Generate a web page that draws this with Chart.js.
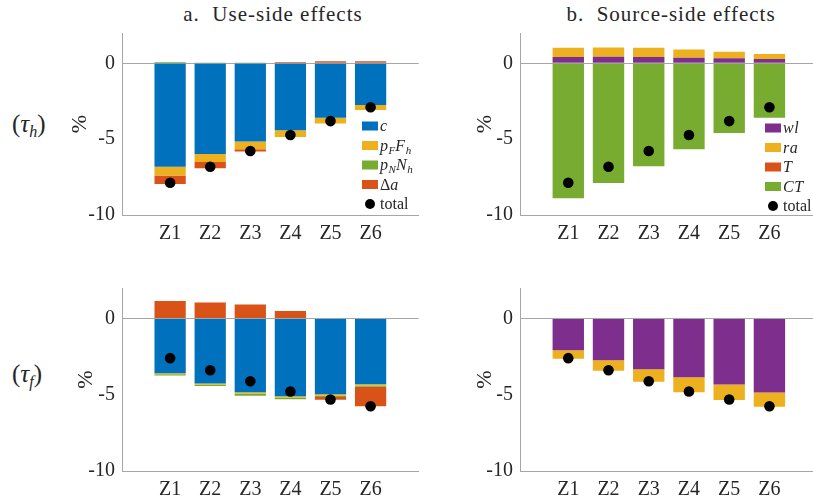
<!DOCTYPE html>
<html lang="en">
<head>
<meta charset="UTF-8">
<title>Use-side and source-side effects</title>
<script src="https://cdn.jsdelivr.net/npm/chart.js@4.4.1/dist/chart.umd.min.js"></script>
<style>
  body{margin:0; width:813px; height:502px; overflow:hidden; background:#fff; position:relative;
       font-family:"Liberation Serif", "DejaVu Serif", serif; color:#262626;}
  canvas{position:absolute;}
  .ttl{position:absolute; width:400px; text-align:center; font-family:"Liberation Serif", "DejaVu Serif", serif;
       font-size:21px; letter-spacing:1px; white-space:pre; line-height:28px;}
  .row{position:absolute; font-family:"Liberation Serif", "DejaVu Serif", serif; font-size:25px; line-height:30px;}
  .row i{font-family:"Liberation Serif", "DejaVu Serif", serif; font-style:italic;}
  .row sub{font-size:16px; vertical-align:-5px; line-height:0;}
</style>
</head>
<body>
<div class="ttl" style="left:73px; top:0px;">a.  Use-side effects</div>
<div class="ttl" style="left:471px; top:0px;">b.  Source-side effects</div>
<div class="row" style="left:12px; top:109px;">(<i>τ</i><sub><i>h</i></sub>)</div>
<div class="row" style="left:12px; top:359px;">(<i>τ</i><sub><i>f</i></sub>)</div>

<canvas id="c1" width="424" height="250" style="left:0;top:0"></canvas>
<canvas id="c2" width="399" height="250" style="left:424px;top:0"></canvas>
<canvas id="c3" width="424" height="252" style="left:0;top:250px"></canvas>
<canvas id="c4" width="399" height="252" style="left:424px;top:250px"></canvas>

<script>
// categories and tick labels
const zones = ['Z1', 'Z2', 'Z3', 'Z4', 'Z5', 'Z6'];
const yTicks = [-10, -5, 0];

// legend labels ( _x = subscript )
const useLabels = ['c', 'p_FF_h', 'p_NN_h', 'Δa'];
const srcLabels = ['wl', 'ra', 'T', 'CT'];

// row (tau_h), use side
const useH_c  = [-6.82, -5.97, -5.16, -4.42, -3.58, -2.75];
const useH_pF = [-0.57, -0.53, -0.50, -0.44, -0.39, -0.32];
const useH_pN = [0.08, 0.05, 0.02, 0, 0, 0];
const useH_da = [-0.56, -0.42, -0.15, 0.08, 0.14, 0.14];
// row (tau_h), source side
const srcH_wl = [0.41, 0.43, 0.41, 0.37, 0.33, 0.28];
const srcH_ra = [0.61, 0.62, 0.61, 0.55, 0.43, 0.33];
const srcH_T  = [0, 0, 0, 0, 0, 0];
const srcH_CT = [-8.89, -7.89, -6.78, -5.67, -4.60, -3.58];
const totalH  = [-7.87, -6.82, -5.78, -4.73, -3.81, -2.90];

// row (tau_f), use side
const useF_c  = [-3.59, -4.27, -4.84, -5.10, -4.97, -4.31];
const useF_pF = [-0.06, -0.07, -0.08, -0.08, -0.09, -0.08];
const useF_pN = [-0.08, -0.08, -0.14, -0.12, -0.09, -0.09];
const useF_da = [1.14, 1.05, 0.92, 0.50, -0.17, -1.27];
// row (tau_f), source side
const srcF_wl = [-2.08, -2.74, -3.33, -3.85, -4.33, -4.86];
const srcF_ra = [-0.56, -0.68, -0.82, -0.98, -1.02, -0.93];
const srcF_T  = [0, 0, 0, 0, 0, 0];
const srcF_CT = [0.03, 0.03, 0.03, 0.03, 0.03, 0.03];
const totalF  = [-2.60, -3.39, -4.11, -4.79, -5.31, -5.75];

const BLUE = '#0072BD', ORANGE = '#D95319', YELLOW = '#EDB120', PURPLE = '#7E2F8E', GREEN = '#77AC30';
const AXIS = '#a6a6a6';

Chart.defaults.font.family = '"Liberation Serif", serif';
Chart.defaults.font.size = 20;
Chart.defaults.color = '#262626';

function pts(arr) { return arr.map((v, i) => ({x: i + 1, y: v})); }

// draws "p_FF_h" style labels, _x = subscript
function drawMath(ctx, text, x, y, math) {
  for (let i = 0; i < text.length; i++) {
    let ch = text[i], sub = false;
    if (ch === '_') { sub = true; ch = text[++i]; }
    const it = math && /[A-Za-z]/.test(ch);
    ctx.font = (it ? 'italic ' : '') + (sub ? 11 : 16) + 'px "Liberation Serif"';
    ctx.fillText(ch, x, y + (sub ? 3 : 0));
    x += ctx.measureText(ch).width + (it && !sub ? 0.6 : 0);
  }
}

const innerLegend = {
  id: 'innerLegend',
  afterDatasetsDraw(chart, args, o) {
    if (!o.show) return;
    const ctx = chart.ctx;
    ctx.save();
    let y = o.y;
    chart.data.datasets.forEach(ds => {
      if (ds.type === 'line') return;
      ctx.fillStyle = ds.backgroundColor;
      ctx.fillRect(o.x, y - 4.5, 16, 9);
      ctx.fillStyle = '#262626';
      drawMath(ctx, ds.label, o.x + 18, y + 5, true);
      y += o.step;
    });
    ctx.fillStyle = '#000';
    ctx.beginPath();
    ctx.arc(o.x + 8, y, 5, 0, Math.PI * 2);
    ctx.fill();
    ctx.fillStyle = '#262626';
    drawMath(ctx, 'total', o.x + 18, y + 5, false);
    ctx.restore();
  }
};

function panel(id, labels, series, colors, total, L) {
  const datasets = series.map((s, k) => ({
    type: 'bar', label: labels[k], data: pts(s), backgroundColor: colors[k],
    borderWidth: 0, barPercentage: 0.78, categoryPercentage: 1, order: 1
  }));
  datasets.push({
    type: 'line', label: 'total', data: pts(total), showLine: false, stack: 'tot',
    pointRadius: 5.3, pointHoverRadius: 5.3, pointBackgroundColor: '#000', pointBorderWidth: 0, order: 0
  });
  return new Chart(document.getElementById(id), {
    type: 'bar',
    data: {datasets: datasets},
    plugins: [innerLegend],
    options: {
      responsive: false, animation: false, devicePixelRatio: 1,
      layout: {padding: {left: L.padLeft, top: L.padTop, right: 0, bottom: 0}},
      plugins: {legend: {display: false}, tooltip: {enabled: false}, innerLegend: L.legend || {show: false}},
      scales: {
        x: {
          type: 'linear', min: -0.2, max: 7.2, stacked: true, offset: false,
          afterBuildTicks: s => { s.ticks = zones.map((z, i) => ({value: i + 1})); },
          afterFit: s => { s.height = L.xHeight; s.paddingLeft = 0; s.paddingRight = 0; },
          ticks: {padding: 7, autoSkip: false, maxRotation: 0, callback: v => zones[v - 1]},
          grid: {display: false, drawTicks: false, offset: false},
          border: {display: true, color: AXIS}
        },
        y: {
          type: 'linear', min: -10, max: 2, stacked: true,
          afterBuildTicks: s => { s.ticks = yTicks.map(v => ({value: v})); },
          afterFit: s => { s.width = L.yWidth; s.paddingTop = 0; s.paddingBottom = 0; },
          ticks: {padding: 7, callback: v => String(v)},
          grid: {drawTicks: false, color: c => (c.tick && c.tick.value === 0) ? AXIS : 'rgba(0,0,0,0)'},
          border: {display: true, color: AXIS},
          title: {display: true, text: '%', font: {size: 22}, padding: 4}
        }
      }
    }
  });
}

const useColors = [BLUE, YELLOW, GREEN, ORANGE];
const srcColors = [PURPLE, YELLOW, ORANGE, GREEN];

const charts = [
  panel('c1', useLabels, [useH_c, useH_pF, useH_pN, useH_da], useColors, totalH,
        {padLeft: 63, yWidth: 59, padTop: 33, xHeight: 35, legend: {show: true, x: 362, y: 126, step: 19.5}}),
  panel('c2', srcLabels, [srcH_wl, srcH_ra, srcH_T, srcH_CT], srcColors, totalH,
        {padLeft: 44, yWidth: 52, padTop: 33, xHeight: 35, legend: {show: true, x: 341, y: 128, step: 19.5}}),
  panel('c3', useLabels, [useF_c, useF_pF, useF_pN, useF_da], useColors, totalF,
        {padLeft: 69, yWidth: 53, padTop: 38, xHeight: 31}),
  panel('c4', srcLabels, [srcF_wl, srcF_ra, srcF_T, srcF_CT], srcColors, totalF,
        {padLeft: 44, yWidth: 52, padTop: 38, xHeight: 31})
];

// redraw once the serif faces are surely loaded
Promise.all([
  document.fonts.load('20px "Liberation Serif"'),
  document.fonts.load('italic 16px "Liberation Serif"')
]).then(() => charts.forEach(c => c.update()));
</script>
</body>
</html>
